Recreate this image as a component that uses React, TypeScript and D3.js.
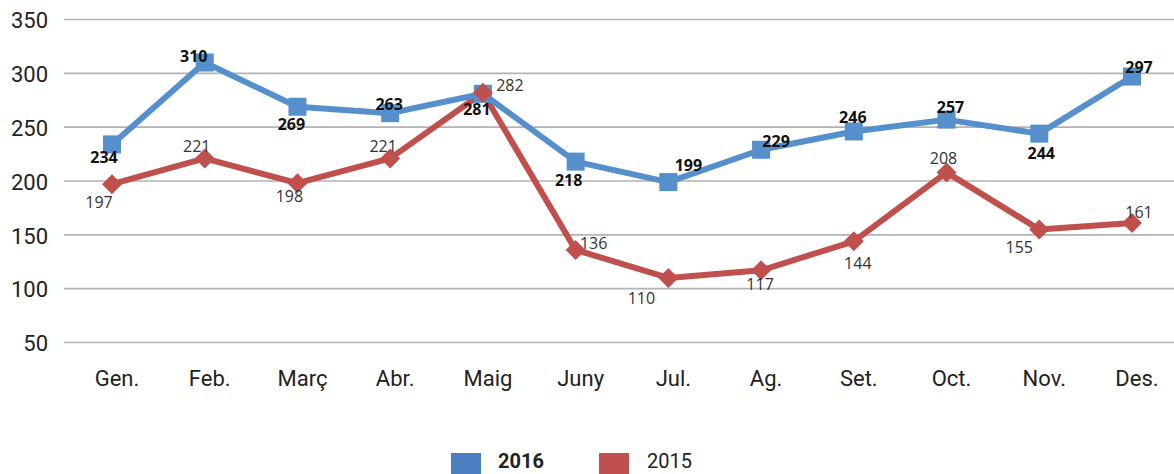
import React from "react";
import * as d3 from "d3";

const months = ["Gen.", "Feb.", "Març", "Abr.", "Maig", "Juny", "Jul.", "Ag.", "Set.", "Oct.", "Nov.", "Des."];
const values2016 = [234, 310, 269, 263, 281, 218, 199, 229, 246, 257, 244, 297];
const values2015 = [197, 221, 198, 221, 282, 136, 110, 117, 144, 208, 155, 161];
const yTicks = [50, 100, 150, 200, 250, 300, 350];
const seriesNames = ["2016", "2015"];

// label placement offsets (layout, not data)
const labelOffsets2016: [number, number][] = [
  [-8, 13], [-11, -7], [-6, 17], [-1, -9], [-6, 15], [-7, 18],
  [20, -17], [15, -9], [-1, -14], [4, -13], [2, 19], [7, -10],
];
const labelOffsets2015: [number, number][] = [
  [-13, 18], [-8, -12], [-8, 13], [-7, -12], [27, -8], [18, -7],
  [-27, 20], [-1, 14], [4, 22], [-3, -14], [-20, 18], [7, -11],
];

const W = 1174;
const H = 474;
const BLUE_LINE = "#5590cc";
const BLUE_LEG = "#4a80c2";
const RED = "#c0504d";

export default function App() {
  const x = d3.scalePoint<string>().domain(months).range([112, 1132]);
  const y = d3.scaleLinear().domain([50, 350]).range([342.5, 19.5]);
  const line = d3
    .line<number>()
    .x((_, i) => x(months[i]) as number)
    .y((d) => y(d));

  const axisFont = "Roboto, 'Liberation Sans', sans-serif";
  const labelFont = "'Open Sans', 'Noto Sans', sans-serif";

  return (
    <svg
      width={W}
      height={H}
      style={{ position: "absolute", left: 0, top: 0, background: "#fff" }}
    >
      {yTicks.map((t) => (
        <g key={t}>
          <line x1={64} x2={W} y1={y(t)} y2={y(t)} stroke="#b3b3b3" strokeWidth={1.6} />
          <text
            x={48}
            y={y(t) + 3}
            textAnchor="end"
            dominantBaseline="middle"
            fontFamily={axisFont}
            fontSize={22}
            fill="#222"
          >
            {t}
          </text>
        </g>
      ))}
      {months.map((m) => (
        <text
          key={m}
          x={(x(m) as number) + 5}
          y={386}
          textAnchor="middle"
          fontFamily={axisFont}
          fontSize={22}
          fill="#222"
        >
          {m}
        </text>
      ))}

      <path d={line(values2015) || ""} fill="none" stroke={RED} strokeWidth={6} strokeLinejoin="round" />
      <path d={line(values2016) || ""} fill="none" stroke={BLUE_LINE} strokeWidth={6} strokeLinejoin="round" />

      {values2016.map((v, i) => {
        const cx = x(months[i]) as number;
        const cy = y(v);
        return <rect key={"s" + i} x={cx - 9} y={cy - 9} width={18} height={18} fill={BLUE_LINE} />;
      })}
      {values2015.map((v, i) => {
        const cx = x(months[i]) as number;
        const cy = y(v);
        const r = 10;
        return (
          <path
            key={"d" + i}
            d={`M${cx},${cy - r}L${cx + r},${cy}L${cx},${cy + r}L${cx - r},${cy}Z`}
            fill={RED}
          />
        );
      })}

      {values2016.map((v, i) => (
        <text
          key={"l16" + i}
          x={(x(months[i]) as number) + labelOffsets2016[i][0]}
          y={y(v) + labelOffsets2016[i][1]}
          textAnchor="middle"
          dominantBaseline="central"
          fontFamily={labelFont}
          fontWeight="bold"
          fontSize={16}
          fill="#111"
        >
          {v}
        </text>
      ))}
      {values2015.map((v, i) => (
        <text
          key={"l15" + i}
          x={(x(months[i]) as number) + labelOffsets2015[i][0]}
          y={y(v) + labelOffsets2015[i][1]}
          textAnchor="middle"
          dominantBaseline="central"
          fontFamily={labelFont}
          fontSize={16}
          fill="#333"
        >
          {v}
        </text>
      ))}

      <rect x={451} y={453} width={30} height={30} fill={BLUE_LEG} />
      <text x={498} y={468} fontFamily={axisFont} fontWeight="bold" fontSize={20} fill="#222">
        {seriesNames[0]}
      </text>
      <rect x={599} y={453} width={30} height={30} fill={RED} />
      <text x={647} y={468} fontFamily={axisFont} fontSize={20} fill="#222">
        {seriesNames[1]}
      </text>
    </svg>
  );
}
